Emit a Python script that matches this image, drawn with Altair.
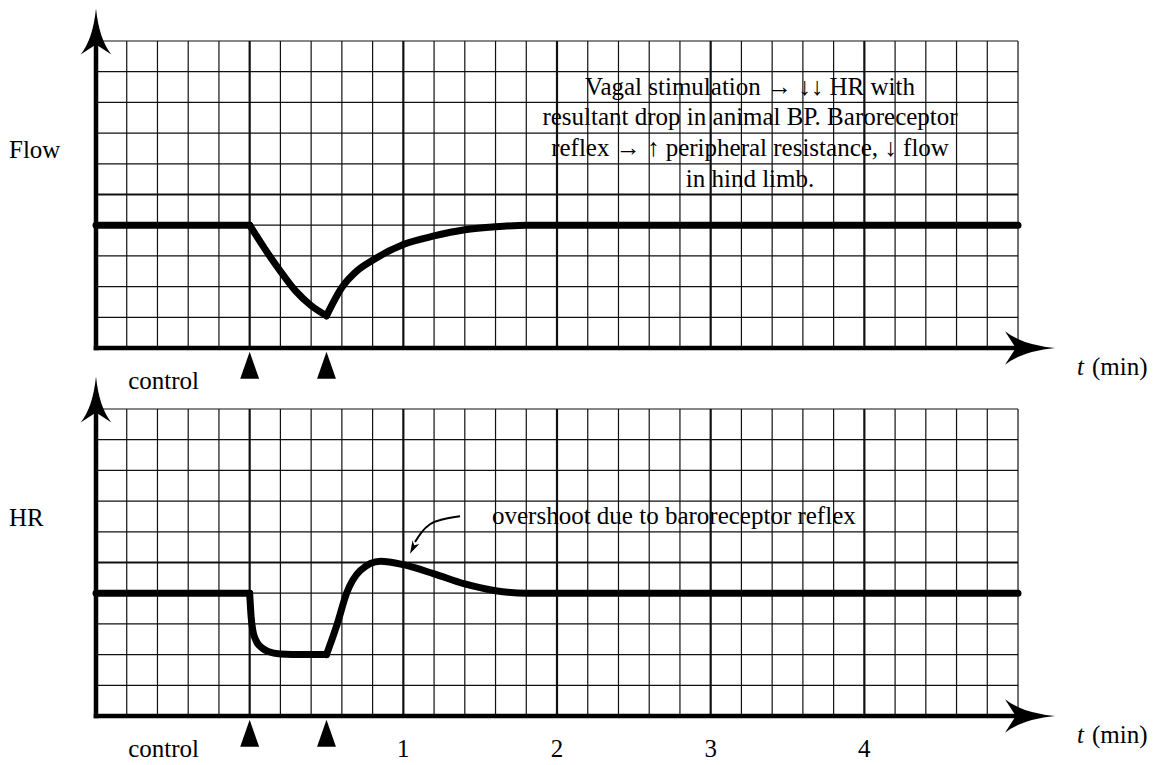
import altair as alt
import pandas as pd

# ---------------- data ----------------
# each curve is drawn as segments so that the corners at the stimulation marks stay sharp
flow_t = [-1.0, 0.0,
          0.0, 0.1, 0.2, 0.3, 0.4, 0.5,
          0.5, 0.6, 0.7, 0.8, 1.0, 1.2, 1.4, 1.6, 1.8, 5.0]
flow_v = [4.0, 4.0,
          4.0, 3.22, 2.5, 1.85, 1.38, 1.05,
          1.05, 1.97, 2.52, 2.86, 3.37, 3.65, 3.85, 3.95, 4.0, 4.0]
flow_seg = [0, 0,
            1, 1, 1, 1, 1, 1,
            2, 2, 2, 2, 2, 2, 2, 2, 2, 2]

hr_t = [-1.0, 0.0,
        0.0, 0.01, 0.02, 0.04, 0.08, 0.12, 0.2, 0.35, 0.5,
        0.5, 0.57, 0.63, 0.72, 0.85, 1.0, 1.2, 1.4, 1.6, 1.8, 5.0]
hr_v = [4.0, 4.0,
        4.0, 3.2, 2.8, 2.47, 2.22, 2.1, 2.02, 2.0, 2.0,
        2.0, 3.0, 3.99, 4.74, 5.04, 4.93, 4.63, 4.3, 4.08, 4.0, 4.0]
hr_seg = [0, 0,
          1, 1, 1, 1, 1, 1, 1, 1, 1,
          2, 2, 2, 2, 2, 2, 2, 2, 2, 2, 2]

stim_t = [0.0, 0.5]
tick_t = [1, 2, 3, 4]
tick_labels = ["1", "2", "3", "4"]

flow_note = [
    "Vagal stimulation \u2192 \u2193\u2193 HR with",
    "resultant drop in animal BP. Baroreceptor",
    "reflex \u2192 \u2191 peripheral resistance,  \u2193 flow",
    "in hind limb.",
]
flow_note_t = [3.256, 3.256, 3.256, 3.256]
flow_note_lv = [8.23, 7.25, 6.24, 5.24]

hr_note = "overshoot due to baroreceptor reflex"
hr_note_t, hr_note_lv = 1.577, 6.24
hr_arrow_t = [1.369, 1.260, 1.1735, 1.1195, 1.076]
hr_arrow_lv = [6.505, 6.407, 6.244, 5.993, 5.668]
hr_arrowhead = (1.064, 5.49)

# ---------------- layout ----------------
PX_MIN = 153.67   # px per minute
PX_LV = 30.7      # px per grid level
W, H = 1140, 368
XMIN = -1 - 88 / PX_MIN
XMAX = XMIN + W / PX_MIN
YMAX = 340 / PX_LV
YMIN = YMAX - H / PX_LV

SERIF = "Liberation Serif"
FS = 25

xs = alt.Scale(domain=[XMIN, XMAX], nice=False, zero=False)
ys = alt.Scale(domain=[YMIN, YMAX], nice=False, zero=False)


def X(f):
    return alt.X(f, type="quantitative", scale=xs, axis=None)


def Y(f):
    return alt.Y(f, type="quantitative", scale=ys, axis=None)


ARROW_UP = "M0,-1 Q0.14,0.35 0.67,1 L0,0.57 L-0.67,1 Q-0.14,0.35 0,-1 Z"
TRI_UP = "M0,-1 L0.7,1 L-0.7,1 Z"
SMALL_DOWN = "M0,1 L-0.55,-0.85 L0,-0.35 L0.55,-0.85 Z"

vg = pd.DataFrame({
    "t": [-1 + 0.2 * i for i in range(1, 31)],
    "y0": 0.0, "y1": 10.0,
    "w": [2.2 if (i % 5 == 0 and i < 30) else 1.2 for i in range(1, 31)],
})
hg = pd.DataFrame({
    "lv": list(range(1, 11)),
    "x0": -1.0, "x1": 5.0,
    "w": [2.2 if i == 5 else 1.2 for i in range(1, 11)],
})

y_tip = YMAX - 0.5 / PX_LV
y_center = y_tip - 23 / PX_LV
x_center = -1 + (1030 - 96) / PX_MIN
UNIT_LV = -0.89


def text_layer(df, align="left", style="normal"):
    return alt.Chart(df).mark_text(
        font=SERIF, fontSize=FS, color="black", align=align, baseline="alphabetic", fontStyle=style
    ).encode(x=X("t"), y=Y("lv"), text="label:N")


def panel(t_vals, v_vals, segs, label, extra_layers):
    curve = pd.DataFrame({"t": t_vals, "v": v_vals, "seg": segs})
    vgrid = alt.Chart(vg).mark_rule(color="#111").encode(
        x=X("t"), y=Y("y0"), y2="y1", strokeWidth=alt.StrokeWidth("w:Q", scale=None))
    hgrid = alt.Chart(hg).mark_rule(color="#111").encode(
        y=Y("lv"), x=X("x0"), x2="x1", strokeWidth=alt.StrokeWidth("w:Q", scale=None))
    line = alt.Chart(curve).mark_line(
        color="black", strokeWidth=7, interpolate="monotone", strokeJoin="round", strokeCap="round"
    ).encode(x=X("t"), y=Y("v"), detail="seg:N")
    yaxis = alt.Chart(pd.DataFrame({"t": [-1.0], "a": [-0.07], "b": [y_center]})).mark_rule(
        color="black", strokeWidth=4.5).encode(x=X("t"), y=Y("a"), y2="b")
    xaxis = alt.Chart(pd.DataFrame({"lv": [0.0], "a": [-1.015], "b": [x_center]})).mark_rule(
        color="black", strokeWidth=4.5).encode(y=Y("lv"), x=X("a"), x2="b")
    yhead = alt.Chart(pd.DataFrame({"t": [-1.0], "lv": [y_center]})).mark_point(
        shape=ARROW_UP, size=2116, filled=True, color="black", opacity=1, strokeWidth=0
    ).encode(x=X("t"), y=Y("lv"))
    xhead = alt.Chart(pd.DataFrame({"t": [x_center], "lv": [0.0]})).mark_point(
        shape=ARROW_UP, size=2500, angle=90, filled=True, color="black", opacity=1, strokeWidth=0
    ).encode(x=X("t"), y=Y("lv"))
    tris = alt.Chart(pd.DataFrame({"t": stim_t, "lv": -0.564})).mark_point(
        shape=TRI_UP, size=729, filled=True, color="black", opacity=1, strokeWidth=0
    ).encode(x=X("t"), y=Y("lv"))

    lab_left = text_layer(pd.DataFrame({"t": [-1.566], "lv": [6.2], "label": [label]}))
    lab_ctrl = text_layer(pd.DataFrame({"t": [-0.56], "lv": [-1.345], "label": ["control"]}), align="center")
    t_it = text_layer(pd.DataFrame({"t": [5.384], "lv": [UNIT_LV], "label": ["t"]}), style="italic")
    t_unit = text_layer(pd.DataFrame({"t": [5.481], "lv": [UNIT_LV], "label": ["(min)"]}))

    layers = [vgrid, hgrid, line, yaxis, xaxis, yhead, xhead, tris,
              lab_left, lab_ctrl, t_it, t_unit] + extra_layers
    return alt.layer(*layers).properties(width=W, height=H)


# top extras
note_top = text_layer(pd.DataFrame({"t": flow_note_t, "lv": flow_note_lv, "label": flow_note}), align="center")

# bottom extras
ticks = text_layer(pd.DataFrame({"t": tick_t, "lv": -1.345, "label": tick_labels}), align="center")
note_hr = text_layer(pd.DataFrame({"t": [hr_note_t], "lv": [hr_note_lv], "label": [hr_note]}))
arrow_line = alt.Chart(pd.DataFrame({"t": hr_arrow_t, "lv": hr_arrow_lv})).mark_line(
    color="black", strokeWidth=2, interpolate="monotone"
).encode(x=X("t"), y=Y("lv"))
arrow_head = alt.Chart(pd.DataFrame({"t": [hr_arrowhead[0]], "lv": [hr_arrowhead[1]]})).mark_point(
    shape=SMALL_DOWN, size=196, angle=27, filled=True, color="black", opacity=1, strokeWidth=0
).encode(x=X("t"), y=Y("lv"))

top = panel(flow_t, flow_v, flow_seg, "Flow", [note_top])
bottom = panel(hr_t, hr_v, hr_seg, "HR", [ticks, note_hr, arrow_line, arrow_head])

chart = alt.VConcatChart(vconcat=[top, bottom], spacing=0, bounds="flush", padding=0,
                         background="white").configure_view(stroke=None)

chart.save("out.html", embed_options={"renderer": "svg", "actions": False})
